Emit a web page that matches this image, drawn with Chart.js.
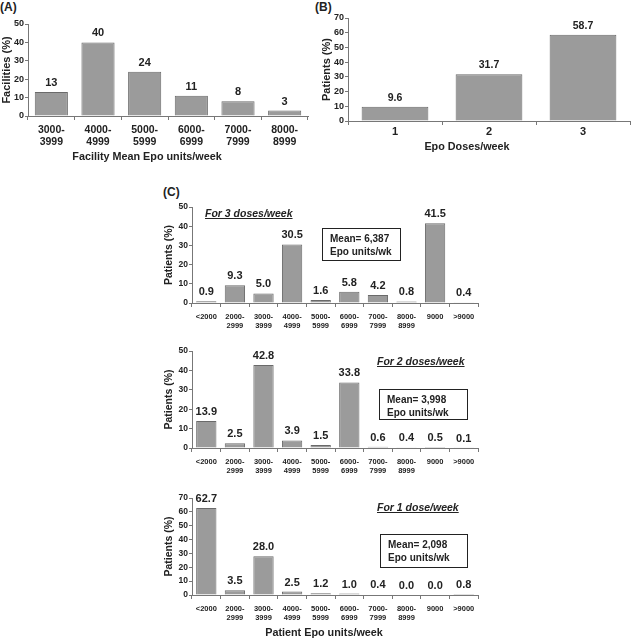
<!DOCTYPE html>
<html>
<head>
  <title>Epo dosing</title>
  <script src="https://cdn.jsdelivr.net/npm/chart.js"></script>
  <style>
    body { margin: 0; width: 631px; height: 638px; overflow: hidden; background: #fff;
           font-family: "Liberation Sans", Arial, sans-serif; color: #222; position: relative; }
    canvas { position: absolute; }
    .lbl { position: absolute; font-weight: bold; white-space: nowrap; }
    .panel { font-size: 12px; line-height: 14px; }
    .xt { font-size: 10.8px; line-height: 14px; transform: translateX(-50%); }
    .note { font-size: 10.5px; line-height: 12px; font-style: italic; text-decoration: underline; }
    .mean { position: absolute; border: 1.5px solid #222; box-sizing: border-box; font-weight: bold;
            font-size: 10px; line-height: 13px; padding: 3px 0 0 7px; white-space: nowrap; }
  </style>
</head>
<body>
  <div class="lbl panel" style="left:0px; top:0px">(A)</div>
  <div class="lbl panel" style="left:315px; top:0px">(B)</div>
  <div class="lbl panel" style="left:163px; top:185px">(C)</div>

  <canvas id="chartA" width="315" height="165" style="left:0px; top:0px"></canvas>
  <canvas id="chartB" width="316" height="158" style="left:315px; top:0px"></canvas>
  <canvas id="chartC3" width="320" height="135" style="left:160px; top:200px"></canvas>
  <canvas id="chartC2" width="320" height="138" style="left:160px; top:340px"></canvas>
  <canvas id="chartC1" width="320" height="154" style="left:160px; top:486px"></canvas>

  <div class="lbl xt" style="left:147px; top:149px">Facility Mean Epo units/week</div>
  <div class="lbl xt" style="left:467px; top:139px">Epo Doses/week</div>
  <div class="lbl xt" style="left:324px; top:625px">Patient Epo units/week</div>

  <div class="lbl note" style="left:205px; top:207px">For 3 doses/week</div>
  <div class="mean" style="left:322px; top:228px; width:79px; height:33px">Mean= 6,387<br>Epo units/wk</div>

  <div class="lbl note" style="left:377px; top:355px">For 2 doses/week</div>
  <div class="mean" style="left:379px; top:389px; width:89px; height:31px">Mean= 3,998<br>Epo units/wk</div>

  <div class="lbl note" style="left:377px; top:501px">For 1 dose/week</div>
  <div class="mean" style="left:380px; top:534px; width:88px; height:34px">Mean= 2,098<br>Epo units/wk</div>

<script>
  // ---- data ----
  const facilityBins = [["3000-", "3999"], ["4000-", "4999"], ["5000-", "5999"],
                        ["6000-", "6999"], ["7000-", "7999"], ["8000-", "8999"]];
  const facilityPct = [13, 40, 24, 11, 8, 3];

  const dosesPerWeek = ["1", "2", "3"];
  const dosesPct = [9.6, 31.7, 58.7];

  const patientBins = ["<2000", ["2000-", "2999"], ["3000-", "3999"], ["4000-", "4999"],
                       ["5000-", "5999"], ["6000-", "6999"], ["7000-", "7999"],
                       ["8000-", "8999"], "9000", ">9000"];
  const pct3Doses = [0.9, 9.3, 5.0, 30.5, 1.6, 5.8, 4.2, 0.8, 41.5, 0.4];
  const pct2Doses = [13.9, 2.5, 42.8, 3.9, 1.5, 33.8, 0.6, 0.4, 0.5, 0.1];
  const pct1Dose = [62.7, 3.5, 28.0, 2.5, 1.2, 1.0, 0.4, 0.0, 0.0, 0.8];

  const BAR_FILL = "#9b9b9b";
  const BAR_EDGE = "#6a6a6a";
  const AXIS = "#777";
  const TEXT = "#222";
  const FONT = '"Liberation Sans", Arial, sans-serif';

  // numbers written above each bar
  const valueLabels = {
    id: "valueLabels",
    afterDatasetsDraw(chart, args, opts) {
      const ctx = chart.ctx;
      const ds = chart.data.datasets[0];
      ctx.save();
      ctx.font = "bold " + opts.size + "px " + FONT;
      ctx.fillStyle = TEXT;
      ctx.textAlign = "center";
      ctx.textBaseline = "middle";
      chart.getDatasetMeta(0).data.forEach((bar, i) => {
        ctx.fillText(ds.data[i].toFixed(opts.digits), bar.x, bar.y - opts.gap);
      });
      ctx.restore();
    }
  };

  function barChart(id, o) {
    return new Chart(document.getElementById(id), {
      type: "bar",
      data: {
        labels: o.labels,
        datasets: [{
          data: o.values,
          backgroundColor: BAR_FILL,
          borderColor: BAR_EDGE,
          borderWidth: 1,
          barPercentage: 0.71,
          categoryPercentage: 1
        }]
      },
      options: {
        responsive: false,
        animation: false,
        layout: { padding: { top: o.top, right: o.right, left: 0, bottom: 0 } },
        plugins: {
          legend: { display: false },
          tooltip: { enabled: false },
          valueLabels: { digits: o.digits, size: o.valueSize, gap: 9 }
        },
        scales: {
          x: {
            afterFit: s => { s.height = o.xHeight; },
            grid: { offset: true, drawOnChartArea: false, tickLength: 4, color: AXIS },
            border: { color: AXIS },
            ticks: { font: { family: FONT, size: o.xSize, weight: "bold" }, color: TEXT,
                     padding: o.xPad, maxRotation: 0, autoSkip: false }
          },
          y: {
            min: 0, max: o.max,
            afterFit: s => { s.width = o.yWidth; },
            grid: { drawOnChartArea: false, tickLength: 3, color: AXIS },
            border: { color: AXIS },
            ticks: { stepSize: 10, font: { family: FONT, size: o.ySize, weight: "bold" },
                     color: TEXT, padding: 1 },
            title: { display: true, text: o.yTitle, color: TEXT, padding: { top: o.yTitlePad, bottom: 0 },
                     font: { family: FONT, size: o.yTitleSize, weight: "bold" } }
          }
        }
      },
      plugins: [valueLabels]
    });
  }

  barChart("chartA", {
    labels: facilityBins, values: facilityPct, max: 50, digits: 0,
    top: 24, right: 7, xHeight: 49, yWidth: 28,
    xSize: 10.5, xPad: 3.7, ySize: 9, valueSize: 11,
    yTitle: "Facilities (%)", yTitleSize: 11, yTitlePad: 0
  });

  barChart("chartB", {
    labels: dosesPerWeek, values: dosesPct, max: 70, digits: 1,
    top: 18, right: 1, xHeight: 37, yWidth: 33,
    xSize: 11, xPad: 0.5, ySize: 9, valueSize: 10.5,
    yTitle: "Patients (%)", yTitleSize: 11, yTitlePad: 4.9
  });

  barChart("chartC3", {
    labels: patientBins, values: pct3Doses, max: 50, digits: 1,
    top: 7, right: 2, xHeight: 32, yWidth: 32,
    xSize: 7.5, xPad: 5.5, ySize: 8.5, valueSize: 11,
    yTitle: "Patients (%)", yTitleSize: 10.5, yTitlePad: 2.7
  });

  barChart("chartC2", {
    labels: patientBins, values: pct2Doses, max: 50, digits: 1,
    top: 11, right: 2, xHeight: 30, yWidth: 32,
    xSize: 7.5, xPad: 5.5, ySize: 8.5, valueSize: 11,
    yTitle: "Patients (%)", yTitleSize: 10.5, yTitlePad: 2.7
  });

  barChart("chartC1", {
    labels: patientBins, values: pct1Dose, max: 70, digits: 1,
    top: 12, right: 2, xHeight: 45, yWidth: 32,
    xSize: 7.5, xPad: 5.5, ySize: 8.5, valueSize: 11,
    yTitle: "Patients (%)", yTitleSize: 10.5, yTitlePad: 2.7
  });
</script>
</body>
</html>
